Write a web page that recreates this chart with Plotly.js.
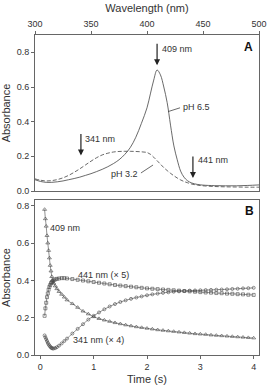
<!DOCTYPE html>
<html>
<head>
<meta charset="utf-8">
<script src="https://cdn.plot.ly/plotly-3.0.1.min.js"></script>
<style>
  html, body { margin: 0; padding: 0; background: #fff; }
  #chart { width: 271px; height: 392px; }
</style>
</head>
<body>
<div id="chart"></div>
<script>
// Panel A: absorption spectra at two pH values
const wavelength = [300, 305, 310, 315, 320, 325, 330, 335, 340, 345, 350, 355, 360, 365, 370, 375, 380, 385, 390, 395, 400, 403, 406, 409, 412, 415, 418, 421, 424, 427, 430, 433, 436, 440, 445, 450, 460, 470, 480, 490, 500];
const absPH65 = [0.065, 0.055, 0.050, 0.050, 0.053, 0.058, 0.065, 0.072, 0.080, 0.090, 0.100, 0.112, 0.125, 0.140, 0.158, 0.180, 0.210, 0.250, 0.310, 0.390, 0.480, 0.560, 0.640, 0.698, 0.670, 0.600, 0.510, 0.380, 0.260, 0.180, 0.115, 0.080, 0.060, 0.046, 0.038, 0.034, 0.031, 0.030, 0.030, 0.032, 0.035];
const absPH32 = [0.070, 0.062, 0.058, 0.060, 0.066, 0.076, 0.090, 0.108, 0.128, 0.150, 0.172, 0.192, 0.208, 0.218, 0.225, 0.228, 0.229, 0.229, 0.228, 0.226, 0.222, 0.212, 0.195, 0.175, 0.155, 0.135, 0.118, 0.102, 0.088, 0.075, 0.064, 0.055, 0.048, 0.040, 0.034, 0.030, 0.026, 0.024, 0.023, 0.022, 0.022];

// Panel B: time courses at three wavelengths
const time = [0.08, 0.095, 0.11, 0.125, 0.14, 0.155, 0.17, 0.185, 0.2, 0.215, 0.23, 0.25, 0.28, 0.31, 0.35, 0.4, 0.45, 0.5, 0.6, 0.7, 0.8, 0.9, 1.0, 1.1, 1.2, 1.3, 1.4, 1.5, 1.6, 1.7, 1.8, 1.9, 2.0, 2.1, 2.2, 2.3, 2.4, 2.5, 2.6, 2.7, 2.8, 2.9, 3.0, 3.1, 3.2, 3.3, 3.4, 3.5, 3.6, 3.7, 3.8, 3.9, 4.0];
const abs409 = [0.78, 0.73, 0.69, 0.64, 0.60, 0.56, 0.52, 0.48, 0.45, 0.42, 0.40, 0.385, 0.37, 0.355, 0.34, 0.325, 0.31, 0.295, 0.275, 0.255, 0.235, 0.22, 0.205, 0.195, 0.187, 0.18, 0.173, 0.167, 0.161, 0.156, 0.151, 0.147, 0.143, 0.139, 0.135, 0.132, 0.129, 0.126, 0.123, 0.12, 0.117, 0.114, 0.112, 0.11, 0.107, 0.105, 0.103, 0.101, 0.099, 0.097, 0.095, 0.093, 0.091];
const abs441x5 = [0.21, 0.25, 0.28, 0.31, 0.33, 0.35, 0.365, 0.375, 0.385, 0.39, 0.395, 0.40, 0.405, 0.408, 0.41, 0.412, 0.412, 0.41, 0.407, 0.403, 0.399, 0.395, 0.391, 0.387, 0.383, 0.379, 0.375, 0.372, 0.369, 0.366, 0.363, 0.36, 0.357, 0.355, 0.353, 0.351, 0.349, 0.347, 0.345, 0.343, 0.341, 0.339, 0.337, 0.335, 0.334, 0.332, 0.331, 0.329, 0.328, 0.326, 0.325, 0.323, 0.322];
const abs341x4 = [0.105, 0.095, 0.085, 0.075, 0.065, 0.057, 0.05, 0.045, 0.04, 0.037, 0.035, 0.035, 0.037, 0.042, 0.05, 0.062, 0.075, 0.088, 0.115, 0.14, 0.165, 0.19, 0.21, 0.228, 0.245, 0.26, 0.273, 0.284, 0.293, 0.301, 0.308, 0.314, 0.32, 0.325, 0.329, 0.333, 0.336, 0.339, 0.341, 0.343, 0.345, 0.346, 0.347, 0.348, 0.349, 0.35, 0.351, 0.352, 0.354, 0.355, 0.357, 0.358, 0.36];

const ink = '#444';
const axisColor = '#666';
const font = 'Liberation Sans, Arial, sans-serif';

const traces = [
  { x: wavelength, y: absPH65, xaxis: 'x', yaxis: 'y', mode: 'lines', line: { color: ink, width: 0.8 } },
  { x: wavelength, y: absPH32, xaxis: 'x', yaxis: 'y', mode: 'lines', line: { color: ink, width: 0.8, dash: '4px,2px' } },
  { x: time, y: abs409, xaxis: 'x2', yaxis: 'y2', mode: 'lines+markers', line: { color: ink, width: 0.6 },
    marker: { symbol: 'triangle-up-open', size: 3.5, color: ink, line: { width: 0.6 } } },
  { x: time, y: abs441x5, xaxis: 'x2', yaxis: 'y2', mode: 'lines+markers', line: { color: ink, width: 0.6 },
    marker: { symbol: 'square-open', size: 3, color: ink, line: { width: 0.6 } } },
  { x: time, y: abs341x4, xaxis: 'x2', yaxis: 'y2', mode: 'lines+markers', line: { color: ink, width: 0.6 },
    marker: { symbol: 'circle-open', size: 3, color: ink, line: { width: 0.6 } } }
];
traces.forEach(t => { t.showlegend = false; t.hoverinfo = 'skip'; t.line.shape = 'spline'; });

const axisBase = {
  showline: true, linecolor: axisColor, linewidth: 1, mirror: true,
  ticks: 'outside', ticklen: 3, tickcolor: axisColor, tickwidth: 1,
  showgrid: false, zeroline: false,
  tickfont: { family: font, size: 9, color: '#333' }
};

function label(text, x, y, xref, yref, opts) {
  return Object.assign({ text, x, y, xref, yref, showarrow: false, xanchor: 'left', yanchor: 'middle',
    font: { family: font, size: 9, color: '#333' } }, opts || {});
}
function arrow(x, y, xref, yref) {
  return { text: '', x, y, xref, yref, showarrow: true, ax: 0, ay: -23,
    arrowhead: 2, arrowsize: 1, arrowwidth: 1.2, arrowcolor: '#222' };
}

const layout = {
  width: 271, height: 392,
  margin: { l: 35, r: 12, t: 35, b: 37 },
  paper_bgcolor: '#fff', plot_bgcolor: '#fff',
  xaxis: Object.assign({}, axisBase, {
    anchor: 'y', side: 'top', range: [300, 500], dtick: 50,
    title: { text: 'Wavelength (nm)', font: { family: font, size: 11, color: '#333' }, standoff: 4 }
  }),
  yaxis: Object.assign({}, axisBase, {
    domain: [0.5125, 1], range: [0, 0.9], dtick: 0.2, tickformat: '.1f',
    title: { text: 'Absorbance', font: { family: font, size: 11, color: '#333' }, standoff: 4 }
  }),
  xaxis2: Object.assign({}, axisBase, {
    anchor: 'y2', range: [-0.1, 4.1], dtick: 1,
    title: { text: 'Time (s)', font: { family: font, size: 11, color: '#333' }, standoff: 4 }
  }),
  yaxis2: Object.assign({}, axisBase, {
    domain: [0, 0.484], range: [0, 0.83], dtick: 0.2, tickformat: '.1f',
    title: { text: 'Absorbance', font: { family: font, size: 11, color: '#333' }, standoff: 4 }
  }),
  shapes: [
    { type: 'line', xref: 'x', yref: 'y', x0: 418.8, y0: 0.458, x1: 429.5, y1: 0.48, line: { color: ink, width: 0.8 } },
    { type: 'line', xref: 'x', yref: 'y', x0: 394.6, y0: 0.104, x1: 405.4, y1: 0.15, line: { color: ink, width: 0.8 } }
  ],
  annotations: [
    arrow(409, 0.725, 'x', 'y'),
    arrow(341, 0.205, 'x', 'y'),
    arrow(441, 0.075, 'x', 'y'),
    label('409 nm', 411.5, 0.82, 'x', 'y'),
    label('341 nm', 343, 0.30, 'x', 'y'),
    label('441 nm', 443.5, 0.18, 'x', 'y'),
    label('pH 6.5', 430.5, 0.485, 'x', 'y'),
    label('pH 3.2', 394, 0.10, 'x', 'y', { xanchor: 'right' }),
    label('<b>A</b>', 496, 0.83, 'x', 'y', { xanchor: 'right', font: { family: font, size: 12, color: '#111' } }),
    label('409 nm', 0.15, 0.68, 'x2', 'y2'),
    label('441 nm (× 5)', 0.66, 0.43, 'x2', 'y2'),
    label('341 nm (× 4)', 0.58, 0.08, 'x2', 'y2'),
    label('<b>B</b>', 4.05, 0.77, 'x2', 'y2', { xanchor: 'right', font: { family: font, size: 12, color: '#111' } })
  ]
};

Plotly.newPlot('chart', traces, layout, { staticPlot: true, displayModeBar: false });
</script>
</body>
</html>
